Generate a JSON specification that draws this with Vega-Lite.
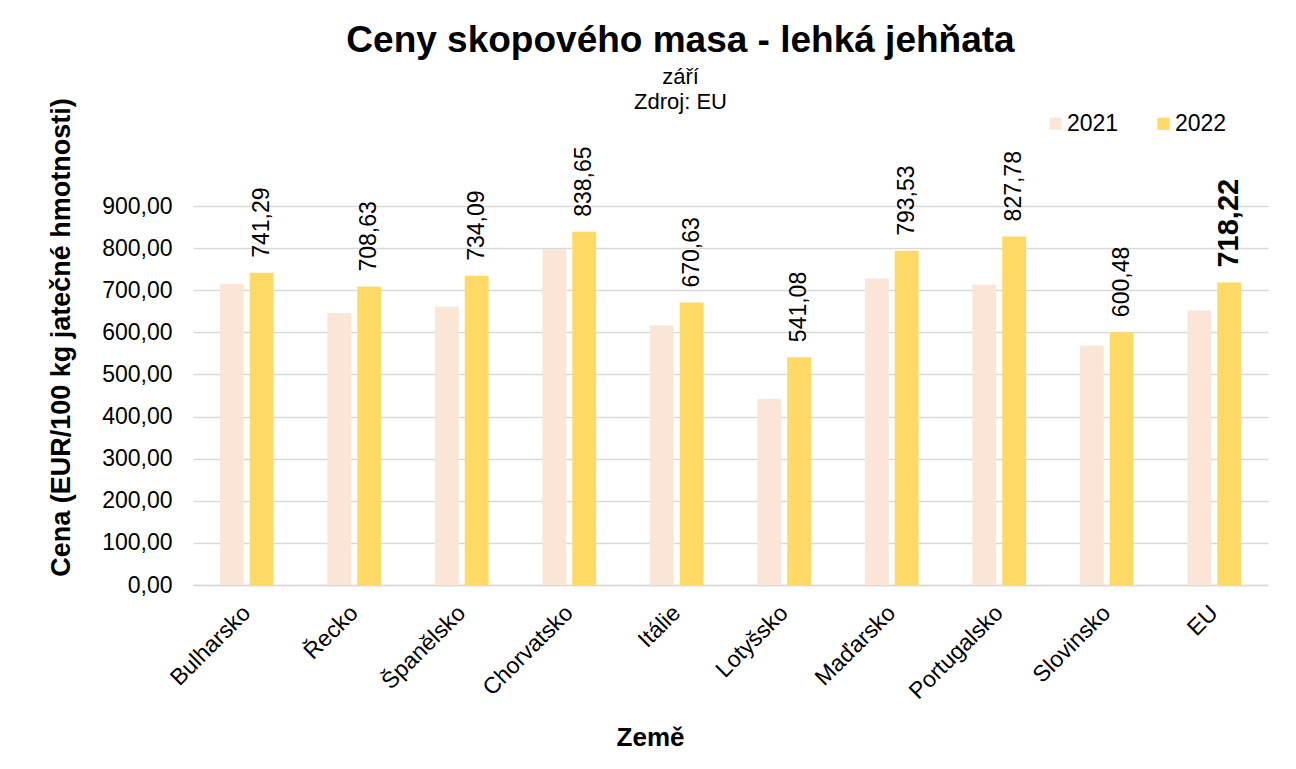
{
  "$schema": "https://vega.github.io/schema/vega-lite/v6.json",
  "autosize": {"type": "none"},
  "width": 1075,
  "height": 379,
  "padding": {"left": 193, "top": 206, "right": 28, "bottom": 184},
  "background": "white",
  "title": {
    "text": "Ceny skopového masa - lehká jehňata",
    "subtitle": ["září", "Zdroj: EU"],
    "anchor": "middle",
    "dx": -50,
    "offset": -16,
    "fontSize": 37,
    "fontWeight": "bold",
    "font": "Liberation Sans",
    "color": "black",
    "subtitleFont": "Liberation Sans",
    "subtitleFontSize": 22,
    "subtitleColor": "black",
    "subtitleLineHeight": 25,
    "subtitlePadding": 7
  },
  "data": {
    "values": [
      {"country": "Bulharsko", "year": "2021", "value": 715},
      {"country": "Bulharsko", "year": "2022", "value": 741.29},
      {"country": "Řecko", "year": "2021", "value": 646},
      {"country": "Řecko", "year": "2022", "value": 708.63},
      {"country": "Španělsko", "year": "2021", "value": 661},
      {"country": "Španělsko", "year": "2022", "value": 734.09},
      {"country": "Chorvatsko", "year": "2021", "value": 798},
      {"country": "Chorvatsko", "year": "2022", "value": 838.65},
      {"country": "Itálie", "year": "2021", "value": 616},
      {"country": "Itálie", "year": "2022", "value": 670.63},
      {"country": "Lotyšsko", "year": "2021", "value": 442},
      {"country": "Lotyšsko", "year": "2022", "value": 541.08},
      {"country": "Maďarsko", "year": "2021", "value": 728},
      {"country": "Maďarsko", "year": "2022", "value": 793.53},
      {"country": "Portugalsko", "year": "2021", "value": 713},
      {"country": "Portugalsko", "year": "2022", "value": 827.78},
      {"country": "Slovinsko", "year": "2021", "value": 569},
      {"country": "Slovinsko", "year": "2022", "value": 600.48},
      {"country": "EU", "year": "2021", "value": 652},
      {"country": "EU", "year": "2022", "value": 718.22}
    ]
  },
  "encoding": {
    "x": {
      "field": "country",
      "type": "nominal",
      "sort": ["Bulharsko", "Řecko", "Španělsko", "Chorvatsko", "Itálie", "Lotyšsko", "Maďarsko", "Portugalsko", "Slovinsko", "EU"],
      "scale": {"paddingInner": 0.5, "paddingOuter": 0.25},
      "axis": {
        "title": "Země",
        "titleX": 457,
        "titleY": 152,
        "titleAlign": "center",
        "titleBaseline": "middle",
        "titleFontSize": 26,
        "titleFontWeight": "bold",
        "labelAngle": -45,
        "labelAlign": "right",
        "labelBaseline": "middle",
        "labelPadding": 24,
        "labelFontSize": 23,
        "ticks": false,
        "grid": false,
        "domainColor": "#D9D9D9",
        "domainWidth": 1.5
      }
    },
    "xOffset": {
      "field": "year",
      "type": "nominal",
      "scale": {"paddingInner": 0.2, "paddingOuter": 0}
    },
    "y": {
      "field": "value",
      "type": "quantitative",
      "scale": {"domain": [0, 900], "nice": false},
      "axis": {
        "title": "Cena (EUR/100 kg jatečné hmotnosti)",
        "titleX": -132,
        "titleY": 131,
        "titleAngle": -90,
        "titleAlign": "center",
        "titleBaseline": "middle",
        "titleFontSize": 27,
        "titleFontWeight": "bold",
        "values": [0, 100, 200, 300, 400, 500, 600, 700, 800, 900],
        "format": ".2f",
        "labelFontSize": 23,
        "labelPadding": 21,
        "ticks": false,
        "domain": false,
        "gridColor": "#D9D9D9",
        "gridWidth": 1.5
      }
    }
  },
  "layer": [
    {
      "mark": {"type": "bar"},
      "encoding": {
        "color": {
          "field": "year",
          "type": "nominal",
          "scale": {"domain": ["2021", "2022"], "range": ["#FBE5D6", "#FFD966"]},
          "legend": {
            "title": null,
            "orient": "none",
            "direction": "horizontal",
            "legendX": 851,
            "legendY": -94,
            "symbolType": "square",
            "symbolSize": 150,
            "symbolStrokeWidth": 0,
            "labelFontSize": 23,
            "labelOffset": 0,
            "columnPadding": 33,
            "padding": 0
          }
        }
      }
    },
    {
      "transform": [{"filter": "datum.year == '2022' && datum.country != 'EU'"}],
      "mark": {"type": "text", "angle": 270, "align": "left", "baseline": "middle", "dx": 15, "fontSize": 23, "font": "Liberation Sans", "color": "black"},
      "encoding": {"text": {"field": "value", "type": "quantitative", "format": ".2f"}}
    },
    {
      "transform": [{"filter": "datum.year == '2022' && datum.country == 'EU'"}],
      "mark": {"type": "text", "angle": 270, "align": "left", "baseline": "middle", "dx": 15, "fontSize": 29, "fontWeight": "bold", "font": "Liberation Sans", "color": "black"},
      "encoding": {"text": {"field": "value", "type": "quantitative", "format": ".2f"}}
    }
  ],
  "config": {
    "font": "Liberation Sans",
    "locale": {"number": {"decimal": ",", "thousands": " ", "grouping": [3], "currency": ["", " €"]}},
    "axis": {"labelColor": "black", "titleColor": "black", "labelFont": "Liberation Sans", "titleFont": "Liberation Sans"},
    "legend": {"labelColor": "black", "labelFont": "Liberation Sans"},
    "view": {"stroke": null}
  }
}
